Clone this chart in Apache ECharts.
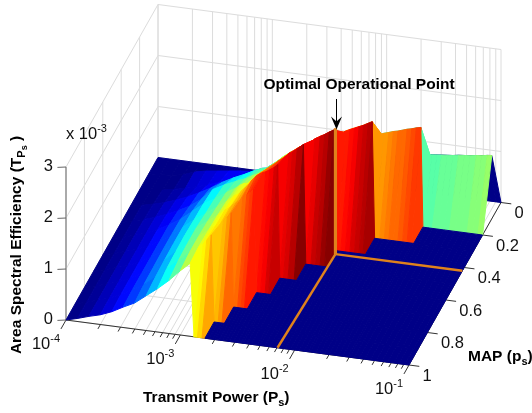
<!DOCTYPE html>
<html><head><meta charset="utf-8">
<style>html,body{margin:0;padding:0;background:#fff}#c{width:532px;height:413px}</style>
<script src="https://cdn.jsdelivr.net/npm/echarts@6/dist/echarts.min.js"></script>
</head><body><div id="c"></div>
<script>
// log10 of transmit power at each surface column
const logPower = [-4,-3.9,-3.8,-3.7,-3.6,-3.5,-3.4,-3.3,-3.2,-3.1,-3,-2.914,-2.88,-2.85,-2.81,-2.785,-2.75,-2.716,-2.695,-2.66,-2.63,-2.6,-2.575,-2.54,-2.5,-2.47,-2.452,-2.42,-2.38,-2.326,-2.305,-2.26,-2.22,-2.18,-2.14,-2.116,-2.08,-2.04,-2,-1.96,-1.92,-1.885,-1.864,-1.82,-1.78,-1.74,-1.7,-1.66,-1.62,-1.58,-1.54,-1.522,-1.48,-1.44,-1.39,-1.34,-1.29,-1.24,-1.19,-1.135,-1.09,-1.04,-1];
const mapValues = [0,0.1,0.2,0.3,0.4,0.5,0.6,0.7,0.8,0.9,1];
// area spectral efficiency (x 10^-3) per MAP row; columns past the end of a row are on the zero floor
const zMap00 = [];
const zMap01 = [0,.01,.03,.07,.15,.2,.23,.26,.29,.31,.34,.37,.38,.39,.41,.42,.44,.46,.47,.49,.51,.52,.54,.56,.58,.6,.61,.63,.66,.69,.71,.74,.77,.8,.82,.84,.86,.89,.92,.95,.97,.99,1,1.01,1.02,1.03,1.04,1.05,1.06,1.07,1.09,1.1,1.11,1.12,1.13,1.14,1.16,1.17,1.18,1.2,1.21,1.23,1.24];
const zMap02 = [0,.03,.06,.1,.15,.21,.28,.36,.44,.52,.6,.68,.72,.76,.82,.85,.88,.9,.93,.97,1,1.03,1.06,1.09,1.12,1.15,1.17,1.2,1.24,1.29,1.31,1.35,1.39,1.43,1.47,1.49,1.52,1.56,1.6,1.64,1.68,1.72,1.74,1.77,1.8,1.82,1.85,1.88,1.9,1.93,1.95];
const zMap03 = [0,.05,.1,.16,.24,.33,.44,.56,.7,.82,.92,1.02,1.05,1.08,1.1,1.14,1.2,1.26,1.3,1.37,1.42,1.47,1.5,1.56,1.62,1.66,1.68,1.72,1.78,1.85,1.88,1.9,1.94,1.98,2,2.03,2.07,2.11,2.15,2.19,2.24,2.28];
const zMap04 = [0,.06,.12,.19,.28,.38,.5,.66,.88,1,1.1,1.18,1.22,1.26,1.3,1.33,1.38,1.44,1.47,1.54,1.6,1.65,1.69,1.76,1.82,1.88,1.92,1.97,2.02,2.1,2.14,2.2,2.25,2.31,2.36];
const zMap05 = [0,.06,.13,.2,.3,.42,.56,.74,.92,1.05,1.2,1.32,1.38,1.42,1.44,1.5,1.58,1.65,1.69,1.74,1.8,1.85,1.89,1.96,2.03,2.09,2.13,2.17,2.24,2.34];
const zMap06 = [0,.06,.13,.2,.3,.42,.57,.75,.93,1.08,1.24,1.38,1.44,1.5,1.55,1.62,1.7,1.78,1.85,1.94,1.99,2.03,2.05,2.1,2.16,2.22];
const zMap07 = [0,.06,.13,.2,.3,.42,.57,.75,.95,1.12,1.28,1.42,1.48,1.54,1.6,1.66,1.72,1.78,1.83,1.89,1.95,2.02];
const zMap08 = [0,.06,.13,.2,.3,.42,.56,.74,.94,1.12,1.3,1.44,1.5,1.55,1.6,1.66,1.74,1.84];
const zMap09 = [0,.06,.13,.2,.3,.42,.55,.72,.92,1.1,1.3,1.46,1.5,1.58,1.7];
const zMap10 = [0,.06,.13,.19,.28,.4,.51,.68,.85,1.04,1.26,1.43];
const zRows = [zMap00,zMap01,zMap02,zMap03,zMap04,zMap05,zMap06,zMap07,zMap08,zMap09,zMap10];
// optimal point marker path: [log10 P, MAP, z]
const optimalPath = [[-2.15,1,0],[-2.11,.42,0],[-1,.42,0]];
const optimalRise = [[-2.11,.42,0],[-2.11,.42,2.47]];
// axes
const powerMajor = [-4,-3,-2,-1];
const powerTicks = [1e-4,2e-4,3e-4,4e-4,5e-4,6e-4,7e-4,8e-4,9e-4,1e-3,2e-3,3e-3,4e-3,5e-3,6e-3,7e-3,8e-3,9e-3,1e-2,2e-2,3e-2,4e-2,5e-2,6e-2,7e-2,8e-2,9e-2,1e-1];
const mapTicks = [0,.2,.4,.6,.8,1];
const zTicks = [0,1,2,3];
const zColorMax = 2.37;

const T = p => 1 - p;
function proj(lp, p, z) {
  const x = (lp + 4) / 3, t = T(p);
  return [66 + 343 * x + 92 * t, 320 + 45 * x - 162.5 * t - 51 * z];
}
function jet(v) {
  const lv = Math.min(63, Math.floor(Math.max(0, Math.min(1, v)) * 64));
  const u = (lv + 0.5) / 64;
  const c = a => Math.round(255 * Math.max(0, Math.min(1, a)));
  const r = 1.5 - Math.abs(4 * u - 3), g = 1.5 - Math.abs(4 * u - 2), b = 1.5 - Math.abs(4 * u - 1);
  return 'rgb(' + c(r) + ',' + c(g) + ',' + c(b) + ')';
}
const zAt = (i, j) => (i < zRows[j].length ? zRows[j][i] : 0);

// ---- line segments behind the surface: [[lp,p,z],[lp,p,z],colour,width]
const GRID = '#dcdcdc';
const backSegs = [];
const lpOf = P => Math.log10(P);
powerTicks.forEach(P => {
  const l = lpOf(P);
  backSegs.push([[l,0,0],[l,0,3],GRID,1]);
  backSegs.push([[l,0,0],[l,1,0],GRID,1]);
});
zTicks.forEach(z => {
  backSegs.push([[-4,0,z],[-1,0,z],GRID,1]);
  backSegs.push([[-4,0,z],[-4,1,z],GRID,1]);
});
mapTicks.forEach(m => {
  backSegs.push([[-4,m,0],[-4,m,3],GRID,1]);
  backSegs.push([[-4,m,0],[-1,m,0],GRID,1]);
});
backSegs.push([[-4,1,0],[-4,1,3],'#aaaaaa',2]);
backSegs.push([[-4,1,0],[-1,1,0],'#333333',1]);
backSegs.push([[-1,1,0],[-1,0,0],'#333333',1]);
powerTicks.forEach(P => {
  const l = lpOf(P), major = powerMajor.some(m => Math.abs(m - l) < 1e-6);
  backSegs.push([[l,1,0],[l,major ? 1.055 : 1.027,0],'#333333',1]);
});
mapTicks.forEach(m => backSegs.push([[-1,m,0],[-0.91,m,0],'#333333',1]));
zTicks.forEach(z => backSegs.push([[-4,1,z],[-4.075,1,z - 0.03],'#666666',1]));

const segSeries = (segs, z) => ({
  type: 'custom', coordinateSystem: 'cartesian2d', silent: true, z, clip: false,
  data: segs.map((s, i) => [i]),
  renderItem(params, api) {
    const s = segs[api.value(0)];
    const a = api.coord(proj(...s[0])), b = api.coord(proj(...s[1]));
    return { type: 'line', shape: { x1: a[0], y1: a[1], x2: b[0], y2: b[1] }, style: { stroke: s[2], lineWidth: s[3], fill: null } };
  }
});

// ---- surface cells, painted back to front
const cells = [];
for (let j = 0; j < mapValues.length - 1; j++)
  for (let i = 0; i < logPower.length - 1; i++) cells.push([i, j]);
const surface = {
  type: 'custom', coordinateSystem: 'cartesian2d', silent: true, z: 3, clip: false, progressive: 0,
  encode: { x: 0, y: 1 },
  data: cells,
  renderItem(params, api) {
    const i = api.value(0), j = api.value(1);
    const pts = [[i, j], [i + 1, j], [i + 1, j + 1], [i, j + 1]].map(q =>
      api.coord(proj(logPower[q[0]], mapValues[q[1]], zAt(q[0], q[1]))));
    const col = jet(zAt(i, j) / zColorMax);
    return { type: 'polygon', shape: { points: pts }, style: { fill: col, stroke: col, lineWidth: 1, lineJoin: 'round' } };
  }
};

// ---- optimal markers
const opt = [];
for (let k = 0; k < optimalPath.length - 1; k++) opt.push([optimalPath[k], optimalPath[k + 1], '#e0821c', 2.4]);
opt.push([optimalRise[0], optimalRise[1], '#e0821c', 3.2]);

// ---- tick labels
const sup = { fontSize: 11, padding: [0, 0, 10, 0], fontFamily: 'Liberation Sans', fill: '#111' };
const labels = [];
powerMajor.forEach(m => {
  const p = proj(m, 1, 0);
  labels.push({ at: [p[0] - 20, p[1] + 24], text: '{b|10}{s|' + m + '}', align: 'center' });
});
mapTicks.forEach(m => {
  const p = proj(-1, m, 0);
  labels.push({ at: [p[0] + 13.5, p[1] + 11], text: String(m), align: 'left' });
});
zTicks.forEach(z => {
  const p = proj(-4, 1, z);
  labels.push({ at: [p[0] - 13, p[1] - 1], text: String(z), align: 'right' });
});
const labelSeries = {
  type: 'custom', coordinateSystem: 'cartesian2d', silent: true, z: 6, clip: false,
  data: labels.map((l, i) => [i]),
  renderItem(params, api) {
    const l = labels[api.value(0)], c = api.coord(l.at);
    return { type: 'text', x: c[0], y: c[1], style: {
      text: l.text, align: l.align, verticalAlign: 'middle', fill: '#111',
      font: '16.5px "Liberation Sans"',
      rich: { b: { fontSize: 16.5, fontFamily: 'Liberation Sans', fill: '#111' }, s: sup }
    } };
  }
};

const FB = '"Liberation Sans"';
const chart = echarts.init(document.getElementById('c'), null, { renderer: 'canvas' });
chart.setOption({
  animation: false,
  backgroundColor: '#fff',
  grid: { left: 0, right: 0, top: 0, bottom: 0 },
  xAxis: { type: 'value', min: 0, max: 532, show: false },
  yAxis: { type: 'value', min: 0, max: 413, inverse: true, show: false },
  series: [segSeries(backSegs, 1), surface, segSeries(opt, 4), labelSeries],
  graphic: [
    { type: 'text', z: 10, x: 66, y: 134, style: { text: '{b|x 10}{s|-3}', verticalAlign: 'middle', fill: '#111',
      rich: { b: { fontSize: 16.5, fontFamily: 'Liberation Sans', fill: '#111' }, s: sup } } },
    { type: 'text', z: 10, x: 359, y: 85, style: { text: 'Optimal Operational Point', align: 'center', verticalAlign: 'middle', font: 'bold 15.5px ' + FB, fill: '#000' } },
    { type: 'text', z: 10, x: 143, y: 398, style: { text: '{b|Transmit Power (P}{u|s}{b|)}', verticalAlign: 'middle', fill: '#000',
      rich: { b: { fontSize: 15.5, fontWeight: 'bold', fontFamily: 'Liberation Sans', fill: '#000' }, u: { fontSize: 11, fontWeight: 'bold', fontFamily: 'Liberation Sans', fill: '#000', padding: [9, 0, 0, 0] } } } },
    { type: 'text', z: 10, x: 468, y: 357, style: { text: '{b|MAP (p}{u|s}{b|)}', verticalAlign: 'middle', fill: '#000',
      rich: { b: { fontSize: 15.5, fontWeight: 'bold', fontFamily: 'Liberation Sans', fill: '#000' }, u: { fontSize: 11, fontWeight: 'bold', fontFamily: 'Liberation Sans', fill: '#000', padding: [9, 0, 0, 0] } } } },
    { type: 'text', z: 10, x: 17, y: 245, rotation: Math.PI / 2, style: { text: '{b|Area Spectral Efficiency (T}{u|P}{v|s}{b| )}', align: 'center', verticalAlign: 'middle', fill: '#000',
      rich: { b: { fontSize: 15.5, fontWeight: 'bold', fontFamily: 'Liberation Sans', fill: '#000' }, u: { fontSize: 11, fontWeight: 'bold', fontFamily: 'Liberation Sans', fill: '#000', padding: [9, 0, 0, 0] }, v: { fontSize: 9, fontWeight: 'bold', fontFamily: 'Liberation Sans', fill: '#000', padding: [16, 0, 0, 0] } } } },
    { type: 'line', z: 10, shape: { x1: 336.5, y1: 99, x2: 336.5, y2: 122 }, style: { stroke: '#000', lineWidth: 1 } },
    { type: 'polygon', z: 10, shape: { points: [[336.5, 129.5], [331, 116.5], [336.5, 121.5], [342, 116.5]] }, style: { fill: '#000' } }
  ]
});
</script></body></html>
